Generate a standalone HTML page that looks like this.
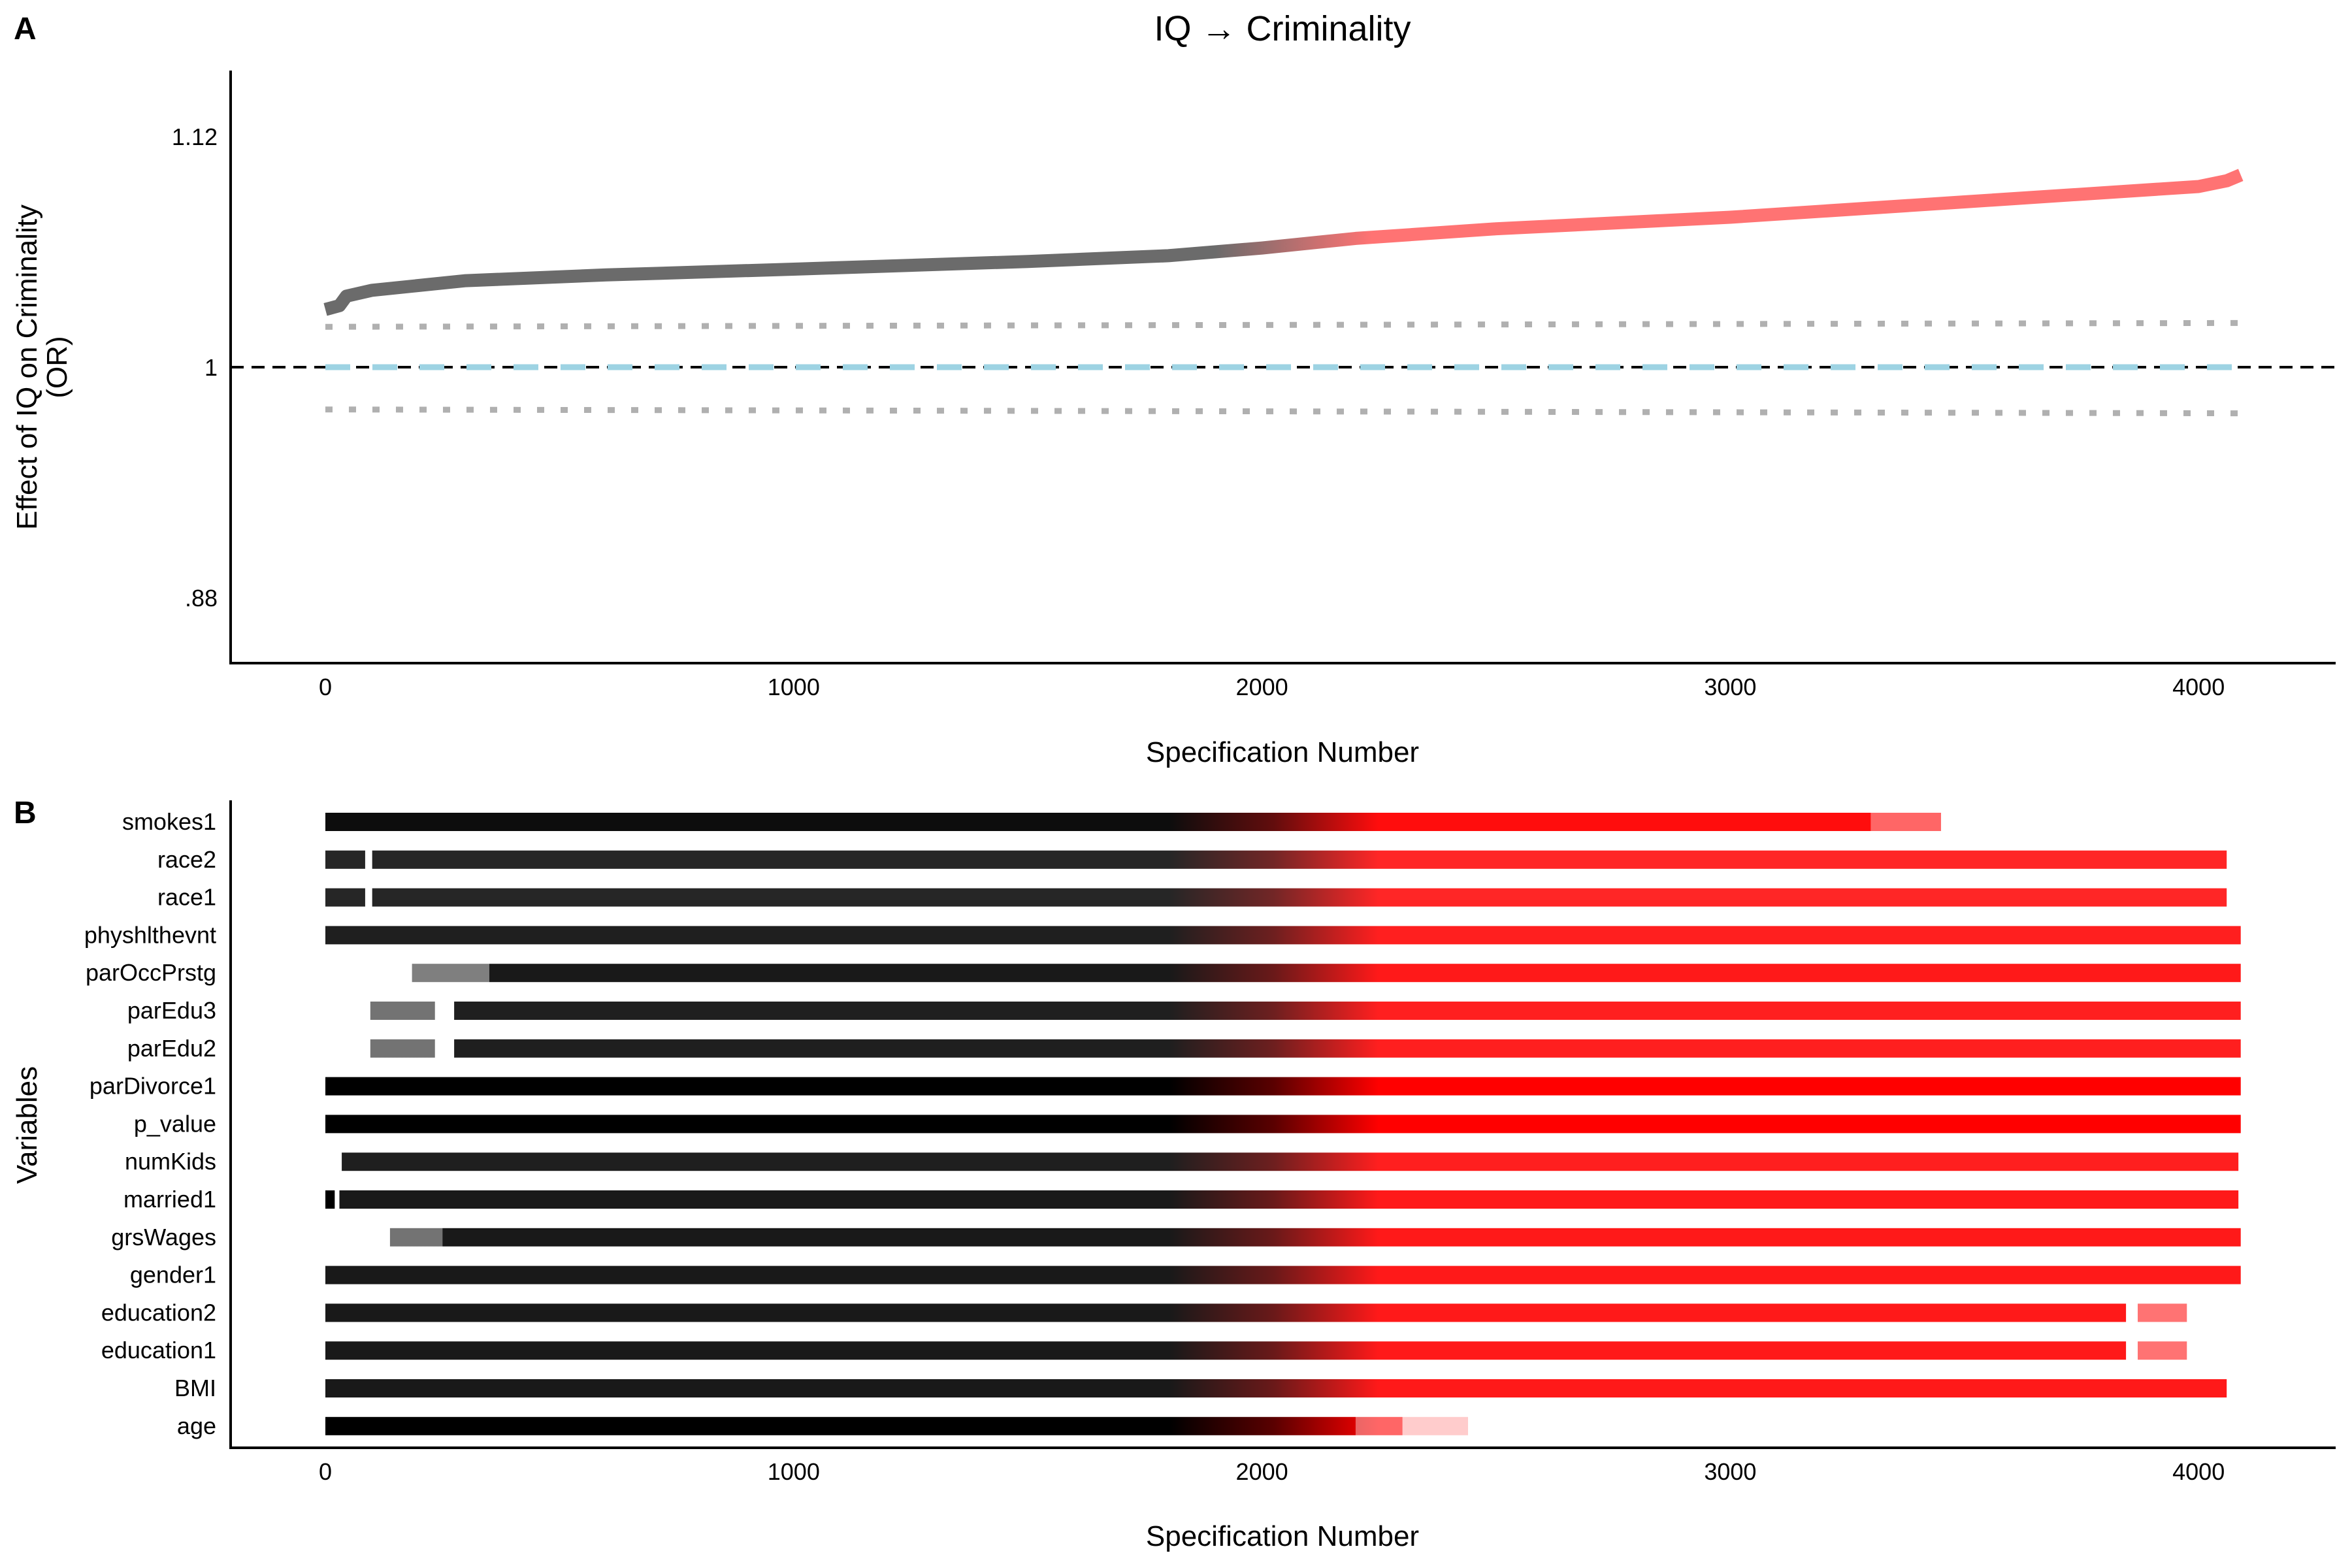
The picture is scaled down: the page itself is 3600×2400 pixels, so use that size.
<!DOCTYPE html>
<html><head><meta charset="utf-8"><style>
html,body{margin:0;padding:0;background:#fff;}
svg{display:block;}
.tk{font-family:"Liberation Sans Narrow","Liberation Sans",sans-serif;font-size:36px;fill:#000;}
.ttl{font-family:"Liberation Sans",sans-serif;font-size:44px;fill:#000;}
</style></head><body>
<svg id="chart" width="3600" height="2400" viewBox="0 0 3600 2400" xmlns="http://www.w3.org/2000/svg">
<defs>
<linearGradient id="gradCurve" gradientUnits="userSpaceOnUse" x1="1860" y1="0" x2="2100" y2="0">
<stop offset="0" stop-color="#6b6b6b"/><stop offset="1" stop-color="#ff7373"/></linearGradient>
<linearGradient id="gradBar" gradientUnits="userSpaceOnUse" x1="1790" y1="0" x2="2110" y2="0">
<stop offset="0" stop-color="#000"/><stop offset="0.5" stop-color="#5a0000"/><stop offset="1" stop-color="#ff0000"/></linearGradient>
</defs>
<g id="panelA"></g>
<g id="panelB"></g>
</svg>
<script>
// ---- data ----
const curveSpec = [0, 30, 45, 100, 300, 600, 1000, 1500, 1800, 2000, 2200, 2500, 3000, 3500, 4000, 4060, 4090];
const curveOR   = [1.030, 1.032, 1.037, 1.040, 1.045, 1.048, 1.051, 1.055, 1.058, 1.062, 1.067, 1.072, 1.078, 1.086, 1.094, 1.097, 1.100];
const upperSpec = [0, 4090];
const upperCI = [1.021, 1.023];
const lowerCI = [0.978, 0.976];
const yTickVals = [1.12, 1, 0.88];
const yTickLabels = ["1.12", "1", ".88"];
const xTickVals = [0, 1000, 2000, 3000, 4000];
const xTickLabels = ["0", "1000", "2000", "3000", "4000"];
const variables = ["smokes1","race2","race1","physhlthevnt","parOccPrstg","parEdu3","parEdu2","parDivorce1","p_value","numKids","married1","grsWages","gender1","education2","education1","BMI","age"];
// segments per variable: [startSpec, endSpec, density]
const segSmokes = [[0,3300,0.95],[3300,3450,0.6]];
const segRace2 = [[0,85,0.85],[100,4060,0.85]];
const segRace1 = [[0,85,0.85],[100,4060,0.85]];
const segPhys = [[0,4090,0.88]];
const segParOcc = [[185,350,0.5],[350,4090,0.9]];
const segParEdu3 = [[96,234,0.55],[275,4090,0.88]];
const segParEdu2 = [[96,234,0.55],[275,4090,0.88]];
const segParDiv = [[0,4090,1]];
const segPval = [[0,4090,1]];
const segNumKids = [[35,4085,0.88]];
const segMarried = [[0,20,1],[30,4085,0.9]];
const segWages = [[138,250,0.55],[250,4090,0.9]];
const segGender = [[0,4090,0.9]];
const segEdu2 = [[0,3845,0.9],[3870,3975,0.55]];
const segEdu1 = [[0,3845,0.9],[3870,3975,0.55]];
const segBMI = [[0,4060,0.9]];
const segAge = [[0,2200,1],[2200,2300,0.6],[2300,2440,0.2]];
const rowSegments = [segSmokes,segRace2,segRace1,segPhys,segParOcc,segParEdu3,segParEdu2,segParDiv,segPval,segNumKids,segMarried,segWages,segGender,segEdu2,segEdu1,segBMI,segAge];

// ---- helpers ----
const NS = "http://www.w3.org/2000/svg";
function mk(tag, attrs, parent, text){
  const e = document.createElementNS(NS, tag);
  for (const k in attrs) e.setAttribute(k, attrs[k]);
  if (text !== undefined) e.textContent = text;
  parent.appendChild(e);
  return e;
}
const xS = s => 498 + s * 0.7168;
const yA = v => 562 - (v - 1) / 0.12 * 353;
const rowY = i => 1258 + i * 57.8;

const A = document.getElementById('panelA');
const B = document.getElementById('panelB');

// ---- panel A ----
let t = mk('text', {x:21, y:60, 'font-family':'Liberation Sans,sans-serif', 'font-size':48, 'font-weight':'bold'}, A, 'A');


t = mk('text', {x:1963, y:62, 'text-anchor':'middle', class:'ttl', style:'font-size:54px'}, A, 'IQ \u2192 Criminality');



// CI dotted lines
let l = mk('line', {x1:xS(upperSpec[0]), y1:yA(upperCI[0]), x2:xS(upperSpec[1]), y2:yA(upperCI[1]), stroke:'#b0b0b0', 'stroke-width':9, 'stroke-dasharray':'11 25'}, A);


l = mk('line', {x1:xS(upperSpec[0]), y1:yA(lowerCI[0]), x2:xS(upperSpec[1]), y2:yA(lowerCI[1]), stroke:'#b0b0b0', 'stroke-width':9, 'stroke-dasharray':'11 25'}, A);


// reference line at 1
l = mk('line', {x1:353, y1:yA(1), x2:3575, y2:yA(1), stroke:'#000', 'stroke-width':4, 'stroke-dasharray':'20 12'}, A);


l = mk('line', {x1:xS(0), y1:yA(1), x2:xS(4090), y2:yA(1), stroke:'#9dd3e3', 'stroke-width':9, 'stroke-dasharray':'38 34'}, A);



// curve
let d = curveSpec.map((s,i)=>(i?'L':'M')+xS(s).toFixed(1)+' '+yA(curveOR[i]).toFixed(1)).join(' ');
let p = mk('path', {d:d, fill:'none', stroke:'url(#gradCurve)', 'stroke-width':20, 'stroke-linejoin':'round'}, A);



// axes
l = mk('line', {x1:353, y1:108, x2:353, y2:1015, stroke:'#000', 'stroke-width':4}, A);


l = mk('line', {x1:351, y1:1015, x2:3575, y2:1015, stroke:'#000', 'stroke-width':4}, A);


yTickVals.forEach((v,i)=>{
  const e = mk('text', {x:333, y:yA(v)+13, 'text-anchor':'end', class:'tk'}, A, yTickLabels[i]);
  
  
});
xTickVals.forEach((v,i)=>{
  const e = mk('text', {x:xS(v), y:1064, 'text-anchor':'middle', class:'tk'}, A, xTickLabels[i]);
  
  
});
t = mk('text', {x:1963, y:1166, 'text-anchor':'middle', class:'ttl'}, A, 'Specification Number');


t = mk('text', {transform:'translate(56,562) rotate(-90)', 'text-anchor':'middle', class:'ttl'}, A, 'Effect of IQ on Criminality');


t = mk('text', {transform:'translate(102,562) rotate(-90)', 'text-anchor':'middle', class:'ttl'}, A, '(OR)');



// ---- panel B ----
t = mk('text', {x:21, y:1260, 'font-family':'Liberation Sans,sans-serif', 'font-size':48, 'font-weight':'bold'}, B, 'B');


variables.forEach((name,i)=>{
  const y = rowY(i);
  const e = mk('text', {x:331, y:y+12, 'text-anchor':'end', class:'tk'}, B, name);
  
  
  rowSegments[i].forEach(seg=>{
    const r = mk('rect', {x:xS(seg[0]), y:y-14, width:Math.max(2, xS(seg[1])-xS(seg[0])), height:28, fill:'url(#gradBar)', 'fill-opacity':seg[2]}, B);
    
    
  });
});
l = mk('line', {x1:353, y1:1225, x2:353, y2:2216, stroke:'#000', 'stroke-width':4}, B);


l = mk('line', {x1:351, y1:2216, x2:3575, y2:2216, stroke:'#000', 'stroke-width':4}, B);


xTickVals.forEach((v,i)=>{
  const e = mk('text', {x:xS(v), y:2265, 'text-anchor':'middle', class:'tk'}, B, xTickLabels[i]);
  
  
});
t = mk('text', {x:1963, y:2366, 'text-anchor':'middle', class:'ttl'}, B, 'Specification Number');


t = mk('text', {transform:'translate(56,1722) rotate(-90)', 'text-anchor':'middle', class:'ttl'}, B, 'Variables');


</script>
</body></html>
